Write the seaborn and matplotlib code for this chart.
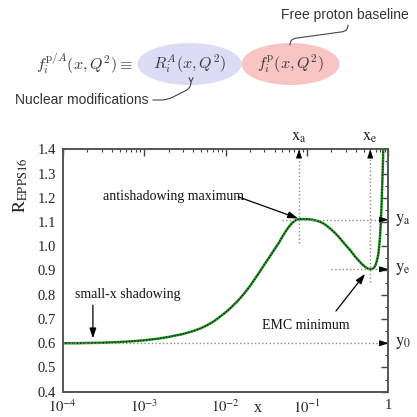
import numpy as np
import pandas as pd
import matplotlib
matplotlib.use('Agg')
import matplotlib.pyplot as plt
from matplotlib.patches import Ellipse
from matplotlib.ticker import LogLocator, MultipleLocator, FixedLocator, NullFormatter
import seaborn as sns

# ---- data ----
x_vals = [1e-4, 1.5e-4, 2e-4, 3e-4, 5e-4, 7e-4, 1e-3, 1.5e-3, 2e-3, 3e-3, 4e-3,
          5e-3, 6e-3, 7e-3, 8e-3, 9e-3, 1.05e-2, 1.2e-2, 1.4e-2, 1.6e-2, 1.8e-2,
          2.05e-2, 2.3e-2, 2.6e-2, 2.9e-2, 3.3e-2, 3.7e-2, 4.1e-2, 4.5e-2, 5.0e-2,
          5.5e-2, 6.0e-2, 6.5e-2, 7.0e-2, 7.5e-2, 0.08, 0.095, 0.11, 0.13, 0.15,
          0.17, 0.19, 0.22, 0.25, 0.29, 0.34, 0.39, 0.43, 0.47, 0.52, 0.56, 0.60,
          0.64, 0.67, 0.70, 0.73, 0.755, 0.775, 0.79, 0.805, 0.82, 0.835, 0.85,
          0.865, 0.875]
r_vals = [0.600, 0.600, 0.601, 0.602, 0.605, 0.608, 0.612, 0.619, 0.626, 0.638, 0.650,
          0.662, 0.675, 0.688, 0.702, 0.715, 0.733, 0.751, 0.773, 0.795, 0.816,
          0.841, 0.866, 0.892, 0.917, 0.945, 0.970, 0.993, 1.013, 1.040,
          1.062, 1.080, 1.094, 1.104, 1.110, 1.112, 1.112, 1.111, 1.106, 1.099,
          1.088, 1.075, 1.056, 1.036, 1.010, 0.984, 0.958, 0.942, 0.928, 0.915, 0.908, 0.905,
          0.907, 0.912, 0.924, 0.945, 0.968, 1.005, 1.035, 1.085, 1.140, 1.215, 1.295,
          1.380, 1.440]
x_a, y_a = 0.08, 1.11
x_e, y_e = 0.6, 0.905
y_0 = 0.6
y_ticks = [0.4, 0.5, 0.6, 0.7, 0.8, 0.9, 1.0, 1.1, 1.2, 1.3, 1.4]
x_ticks = [1e-4, 1e-3, 1e-2, 1e-1, 1]
x_tick_labels = [r'$10^{-4}$', r'$10^{-3}$', r'$10^{-2}$', r'$10^{-1}$', '1']

sns.set_style('white')
plt.rcParams['font.family'] = ['Liberation Serif', 'DejaVu Serif']
plt.rcParams['mathtext.fontset'] = 'stix'

W = 417
fig = plt.figure(figsize=(4.17, 4.17), dpi=100)
ax = fig.add_axes([62.7 / W, (W - 391.7) / W, 325.6 / W, 242.4 / W])

df = pd.DataFrame({'x': x_vals, 'R': r_vals})
sns.lineplot(data=df, x='x', y='R', ax=ax, color='#1f941f', lw=1.8, sort=False)
sns.lineplot(data=df, x='x', y='R', ax=ax, color='#111111', lw=0.9,
             linestyle=(0, (1, 1.3)), sort=False)

ax.set_xscale('log')
ax.set_xlim(1e-4, 1)
ax.set_ylim(0.4, 1.4)
ax.set_xticks(x_ticks, x_tick_labels)
ax.xaxis.set_minor_locator(LogLocator(base=10, subs=np.arange(2, 10), numticks=20))
ax.xaxis.set_minor_formatter(NullFormatter())
ax.yaxis.set_major_locator(FixedLocator(y_ticks))
ax.set_yticklabels([f'{v:.1f}' for v in y_ticks])
ax.yaxis.set_minor_locator(MultipleLocator(0.05))
ax.tick_params(which='both', direction='in', top=True, right=True, color='#444',
               labelsize=10.5, labelcolor='#222')
ax.tick_params(which='major', length=5, width=1)
ax.tick_params(which='minor', length=2.5, width=0.8)
ax.tick_params(axis='x', pad=5)
ax.tick_params(axis='y', pad=5)
for s in ax.spines.values():
    s.set_color('#555')
    s.set_linewidth(1.4)
ax.set_xlabel('')
ax.set_ylabel('')
ax.text((258 - 62.7) / 325.6, -0.066, 'x', transform=ax.transAxes, ha='center',
        va='center', fontsize=11.5, color='#222')
ax.text(-0.13, 0.85, r'$\mathrm{R_{EPPS16}}$', transform=ax.transAxes, rotation=90,
        ha='center', va='center', fontsize=13, color='#222')

# guide lines
gc = '#8a8a8a'
ax.vlines(x_a, 1.013, 1.4, colors=gc, linestyles=':', lw=1)
ax.vlines(x_e, 0.854, 1.4, colors=gc, linestyles=':', lw=1)
ax.hlines(y_a, 0.049, 1, colors=gc, linestyles=':', lw=1)
ax.hlines(y_e, 0.196, 1, colors=gc, linestyles=':', lw=1)
ax.hlines(y_0, 1e-4, 1, colors=gc, linestyles=':', lw=1)

head = dict(arrowstyle='-|>,head_length=0.5,head_width=0.17', color='black', lw=0.8,
            shrinkA=0, shrinkB=0, mutation_scale=10)
for xv in (x_a, x_e):
    ax.annotate('', xy=(xv, 1.4), xytext=(xv, 1.37), arrowprops=head, annotation_clip=False)
for yv in (y_a, y_e, y_0):
    ax.annotate('', xy=(1, yv), xytext=(0.82, yv), arrowprops=head, annotation_clip=False)

lab = dict(fontsize=12, color='#222')
ax.text(x_a, 1.45, r'$\mathrm{x_a}$', ha='center', va='center', **lab)
ax.text(x_e, 1.45, r'$\mathrm{x_e}$', ha='center', va='center', **lab)
for yv, t in ((y_a, r'$\mathrm{y_a}$'), (y_e, r'$\mathrm{y_e}$'), (y_0, r'$\mathrm{y_0}$')):
    ax.text(1.02, yv, t, transform=ax.get_yaxis_transform(), ha='left', va='center', **lab)

arr = dict(arrowstyle='-|>,head_length=0.6,head_width=0.2', color='black', lw=0.9,
           shrinkA=0, shrinkB=0, mutation_scale=10)
txt = dict(fontsize=10, color='#111')
ax.text(1.42e-4, 0.80, 'small-x shadowing', ha='left', va='center', **txt)
ax.annotate('', xy=(2.35e-4, 0.62), xytext=(2.35e-4, 0.757), arrowprops=arr)
ax.text(3.1e-4, 1.207, 'antishadowing maximum', ha='left', va='center', **txt)
ax.annotate('', xy=(0.0778, 1.115), xytext=(0.0143, 1.204), arrowprops=arr)
ax.text(0.0977, 0.675, 'EMC minimum', ha='center', va='center', **txt)
ax.annotate('', xy=(0.518, 0.886), xytext=(0.2276, 0.733), arrowprops=arr)

# ---- top formula overlay (pixel coordinates) ----
ov = fig.add_axes([0, 0, 1, 1])
ov.set_xlim(0, W)
ov.set_ylim(W, 0)
ov.axis('off')
ov.patch.set_alpha(0)
ov.add_patch(Ellipse((189.5, 64), 104, 42, color='#dcdcf7', lw=0))
ov.add_patch(Ellipse((290.5, 64), 98, 42, color='#f8c4c4', lw=0))
mt = dict(fontsize=11.5, color='#3a3a3a', math_fontfamily='cm', va='center')
ov.text(133, 64, r'$f_i^{\mathrm{p}/A}(x,Q^2)\equiv$', ha='right', **mt)
ov.text(189.5, 64, r'$R_i^A(x,Q^2)$', ha='center', **mt)
ov.text(290.5, 64, r'$f_i^{\mathrm{p}}(x,Q^2)$', ha='center', **mt)
st = dict(fontsize=10, color='#333', family='Liberation Sans', va='center')
ov.text(409, 15, 'Free proton baseline', ha='right', **st)
ov.text(15, 100, 'Nuclear modifications', ha='left', **st)
sarr = dict(arrowstyle='->,head_length=0.3,head_width=0.15', color='#444', lw=0.8,
            shrinkA=0, shrinkB=0, mutation_scale=10)
ov.annotate('', xy=(290, 45), xytext=(348, 25),
            arrowprops=dict(connectionstyle='arc,angleA=-90,angleB=90,armA=6,armB=6,rad=6', **sarr))
ov.annotate('', xy=(191, 83), xytext=(153, 100),
            arrowprops=dict(connectionstyle='arc,angleA=0,angleB=-90,armA=14,armB=5,rad=6', **sarr))

fig.savefig('out.png', dpi=100)
